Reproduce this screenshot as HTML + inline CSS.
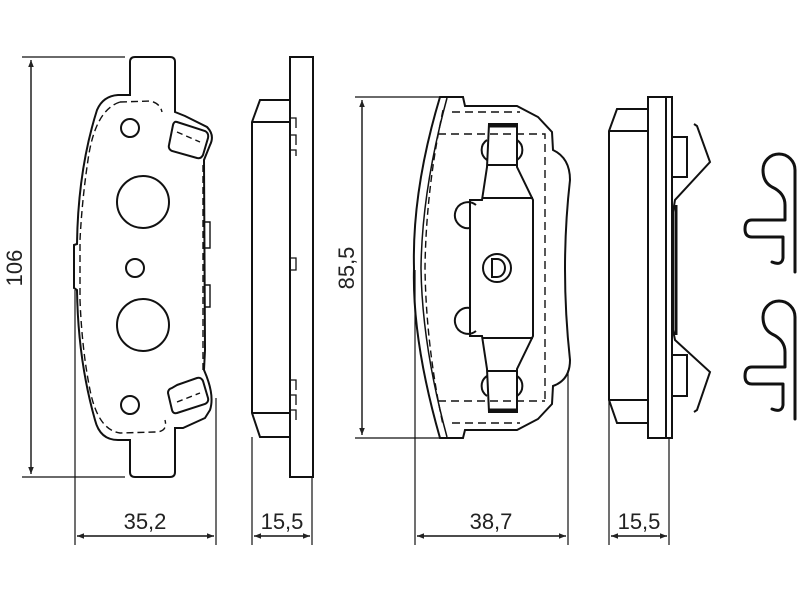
<!DOCTYPE html>
<html><head><meta charset="utf-8"><style>
html,body{margin:0;padding:0;background:#fff;width:800px;height:600px;overflow:hidden}
svg{display:block}
text{font-family:"Liberation Sans",sans-serif;fill:#222}
</style></head><body>
<svg width="800" height="600" viewBox="0 0 800 600" xmlns="http://www.w3.org/2000/svg">
<defs>
<marker id="a" viewBox="0 0 10 10" refX="10" refY="5" markerWidth="10" markerHeight="7" orient="auto-start-reverse" markerUnits="userSpaceOnUse"><path d="M0,1 L10,5 L0,9 z" fill="#222"/></marker>
</defs>
<g fill="none" stroke="#111" stroke-width="2">
<!-- 106 dim -->
<line x1="22" y1="57" x2="125" y2="57" stroke-width="1.2"/>
<line x1="22" y1="477" x2="125" y2="477" stroke-width="1.2"/>
<line x1="31" y1="60" x2="31" y2="474" stroke-width="1.4" marker-start="url(#a)" marker-end="url(#a)"/>
<!-- left pad -->
<path d="M130,95 L130,62 Q130,57 135,57 L170,57 Q175,57 175,62 L175,112 L185,116 L207,127 Q215,135 210,145 L204,160 L205,350 L204,370 Q215,395 210,410 L205,418 L183,428 L175,428 L175,472 Q175,477 170,477 L135,477 Q130,477 130,472 L130,440 L118,440 Q100,440 95,420 Q78,360 77,290 L74,288 L74,245 L77,244 Q78,170 97,110 Q103,96 118,95 Z"/>
<path d="M120,102 Q95,110 88,160 Q82,200 80,240 L80,300 Q82,350 90,390 Q98,430 120,433 L155,432 Q168,432 165,420" stroke-dasharray="7,4" stroke-width="1.4"/>
<path d="M120,102 L150,101 Q160,103 162,112" stroke-dasharray="7,4" stroke-width="1.4"/>
<path d="M203,165 L203,370" stroke-dasharray="7,4" stroke-width="1.4"/>
<path d="M204,222 L210,222 L210,248 L204,248 M204,285 L210,285 L210,307 L204,307" stroke-width="1.4"/>
<path d="M177,122 L205,131 Q209,133 208,138 L203,155 Q201,159 197,158 L172,151 Q168,149 169,145 L173,125 Q174,121 177,122 Z"/>
<path d="M177,385 L197,378 Q201,377 203,381 L208,398 Q209,402 205,404 L177,413 Q173,414 172,410 L168,393 Q168,389 172,388 Z"/>
<path d="M177,132 L200,142 M177,402 L200,393" stroke-dasharray="6,4" stroke-width="1.4"/>
<circle cx="130" cy="128" r="9"/>
<circle cx="143" cy="202" r="26"/>
<circle cx="135" cy="268" r="9"/>
<circle cx="143" cy="325" r="26"/>
<circle cx="130" cy="405" r="9"/>
<line x1="75" y1="290" x2="75" y2="545" stroke-width="1.2"/>
<line x1="216" y1="398" x2="216" y2="545" stroke-width="1.2"/>
<line x1="77" y1="536" x2="214" y2="536" stroke-width="1.4" marker-start="url(#a)" marker-end="url(#a)"/>
<!-- side view 1 -->
<rect x="290" y="57" width="23" height="420"/>
<path d="M290,100 L260,100 L252,122 L252,413 L260,437 L290,437"/>
<line x1="252" y1="122" x2="290" y2="122"/>
<line x1="252" y1="413" x2="290" y2="413"/>
<path d="M291,118 h5 v10 M291,135 h5 v10 M291,150 h5 v6 M291,258 h5 v12 h-5 M291,380 h5 v10 M291,395 h5 v10 M291,410 h5 v10" stroke-width="1.3"/>
<line x1="252" y1="437" x2="252" y2="545" stroke-width="1.2"/>
<line x1="312" y1="477" x2="312" y2="545" stroke-width="1.2"/>
<line x1="254" y1="536" x2="310" y2="536" stroke-width="1.4" marker-start="url(#a)" marker-end="url(#a)"/>
<!-- 85,5 dim -->
<line x1="355" y1="97" x2="440" y2="97" stroke-width="1.2"/>
<line x1="355" y1="438" x2="440" y2="438" stroke-width="1.2"/>
<line x1="362" y1="100" x2="362" y2="435" stroke-width="1.4" marker-start="url(#a)" marker-end="url(#a)"/>
<!-- right pad -->
<path d="M440,97 L463,97 L465,106 L517,106 L538,117 L552,132 L553,150 Q570,158 570,180 Q560,268 570,360 Q570,380 553,386 L552,404 L538,419 L517,430 L465,430 L463,438 L440,438 Q412,340 414,268 Q412,190 440,97 Z"/>
<path d="M447,98 Q422,190 421,268 Q422,345 447,437" stroke-width="1.5"/>
<path d="M443,110 Q426,190 425,268 Q426,345 443,425" stroke-dasharray="7,4" stroke-width="1.4"/>
<path d="M452,112 L520,112 M452,423 L520,423 M438,134 L545,134 L545,400 M438,401 L545,401" stroke-dasharray="8,5" stroke-width="1.4"/>
<path d="M489,124 L517,124 L517,167 L533,200 L533,336 L517,369 L517,412 L489,412 L487,369 L482,336 L470,336 L470,200 L482,200 L487,167 Z"/>
<line x1="488" y1="126" x2="517" y2="126" stroke-width="3"/>
<line x1="488" y1="410" x2="517" y2="410" stroke-width="3"/>
<path d="M487,165 L517,165 M482,198 L533,198 M482,338 L533,338 M487,371 L517,371"/>
<path d="M487,140 A12,12 0 0 0 487,160 M517,140 A12,12 0 0 1 517,160 M487,376 A12,12 0 0 0 487,396 M517,376 A12,12 0 0 1 517,396"/>
<path d="M476,205 A13,13 0 1 0 470,228 M476,331 A13,13 0 1 1 470,308"/>
<circle cx="497" cy="268" r="14"/>
<path d="M492,259 L492,277 L497,277 A8,9 0 0 0 497,259 Z"/>
<line x1="415" y1="270" x2="415" y2="545" stroke-width="1.2"/>
<line x1="568" y1="370" x2="568" y2="545" stroke-width="1.2"/>
<line x1="417" y1="536" x2="566" y2="536" stroke-width="1.4" marker-start="url(#a)" marker-end="url(#a)"/>
<!-- side view 2 -->
<rect x="648" y="97" width="24" height="341"/>
<line x1="666" y1="97" x2="666" y2="438"/>
<path d="M648,109 L617,109 L609,131 L609,400 L617,423 L648,423"/>
<line x1="609" y1="131" x2="648" y2="131"/>
<line x1="609" y1="400" x2="648" y2="400"/>
<rect x="672" y="137" width="15" height="40"/>
<rect x="672" y="355" width="15" height="41"/>
<path d="M694,124 L697,126 L710,162 L675,200 L673,212 L673,330 L675,340 L710,372 L697,410 L694,412" stroke-width="2"/>
<path d="M676,205 L676,335" stroke-width="3"/>
<line x1="609" y1="400" x2="609" y2="545" stroke-width="1.2"/>
<line x1="669" y1="438" x2="669" y2="545" stroke-width="1.2"/>
<line x1="611" y1="536" x2="667" y2="536" stroke-width="1.4" marker-start="url(#a)" marker-end="url(#a)"/>
<!-- springs -->
<g stroke-width="3" stroke-linecap="round" stroke-linejoin="round">
<path d="M795,272 L795,170 A16,16 0 0 0 763,170 Q763,182 772,187 Q785,193 785,205 L785,220 L752,220 Q745,220 745,229 Q745,237 752,237 L783,237 L783,258 Q782,266 772,262"/>
<path d="M795,419 L795,317 A16,16 0 0 0 763,317 Q763,329 772,334 Q785,340 785,352 L785,367 L752,367 Q745,367 745,376 Q745,384 752,384 L783,384 L783,405 Q782,413 772,409"/>
</g>
</g>
<g font-size="22">
<text x="0" y="0" transform="translate(22,268) rotate(-90)" text-anchor="middle">106</text>
<text x="0" y="0" transform="translate(354,268) rotate(-90)" text-anchor="middle">85,5</text>
<text x="145" y="529" text-anchor="middle">35,2</text>
<text x="282" y="529" text-anchor="middle">15,5</text>
<text x="491" y="529" text-anchor="middle">38,7</text>
<text x="639" y="529" text-anchor="middle">15,5</text>
</g>
</svg>
</body></html>
